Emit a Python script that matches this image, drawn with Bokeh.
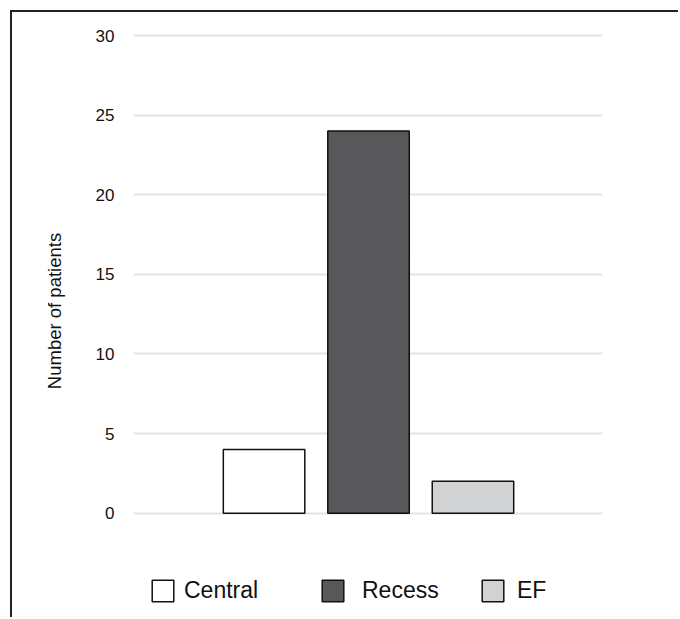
from bokeh.plotting import figure
from bokeh.models import (ColumnDataSource, FixedTicker, Legend, LegendItem, Range1d)
from bokeh.embed import file_html
from bokeh.resources import INLINE

# ---- data ----
categories = ["Central", "Recess", "EF"]
patients = [4, 24, 2]
bar_colors = ["#ffffff", "#58585a", "#d1d2d4"]
y_ticks = [0, 5, 10, 15, 20, 25, 30]
y_label = "Number of patients"

FONT = "Liberation Sans"

xs = list(range(len(categories)))

p = figure(width=668, height=607, output_backend="svg", toolbar_location=None,
           x_range=Range1d(-1.25, 3.24), y_range=Range1d(-5.8, 31.2),
           min_border_left=121, min_border_right=78, min_border_top=4,
           min_border_bottom=14, x_axis_location=None)
p.outline_line_color = None
p.background_fill_color = "white"
p.border_fill_color = "white"
p.styles = {"margin-left": "10px", "margin-top": "10px",
            "border-top": "2px solid #222222", "border-left": "2px solid #222222"}

renderers = []
for i, (c, v, col) in enumerate(zip(categories, patients, bar_colors)):
    src = ColumnDataSource(dict(x=[xs[i]], top=[v]))
    r = p.vbar(x="x", top="top", bottom=0, width=0.78, source=src,
               fill_color=col, line_color="#111111", line_width=1.5)
    renderers.append(r)

p.xgrid.visible = False
p.ygrid.ticker = FixedTicker(ticks=y_ticks)
p.ygrid.grid_line_color = "#e4e4e6"
p.ygrid.grid_line_width = 2

ax = p.yaxis[0]
ax.ticker = FixedTicker(ticks=y_ticks)
ax.axis_line_color = None
ax.major_tick_line_color = None
ax.minor_tick_line_color = None
ax.major_tick_out = 0
ax.major_tick_in = 0
ax.major_label_standoff = 19
ax.major_label_text_font = FONT
ax.major_label_text_font_size = "17px"
ax.major_label_text_color = "#111111"
ax.axis_label = y_label
ax.axis_label_text_font = FONT
ax.axis_label_text_font_size = "18.5px"
ax.axis_label_text_font_style = "normal"
ax.axis_label_text_color = "#111111"
ax.axis_label_standoff = 28

# legends, one per item
leg_x = [16, 186, 346]
standoffs = [8, 16, 11]
for c, r, lx, so in zip(categories, renderers, leg_x, standoffs):
    lg = Legend(items=[LegendItem(label=c, renderers=[r])], location=(lx, 1),
                orientation="horizontal", glyph_width=27, glyph_height=27,
                label_height=27, label_standoff=so, padding=0, margin=0,
                border_line_color=None, background_fill_alpha=0,
                label_text_font=FONT, label_text_font_size="23px",
                label_text_color="#111111")
    p.add_layout(lg, "center")

open("out.html", "w").write(file_html(p, INLINE))
